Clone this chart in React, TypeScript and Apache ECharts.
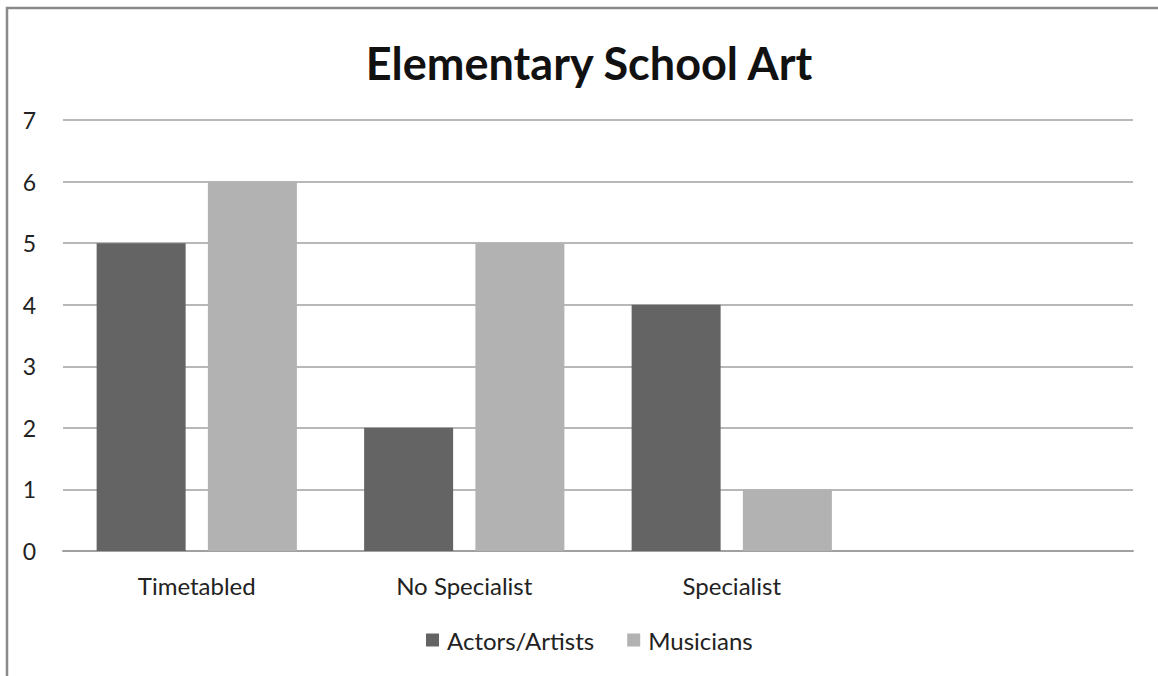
import React, { useEffect, useRef } from "react";
import * as echarts from "echarts";

const categories = ["Timetabled", "No Specialist", "Specialist", ""];
const actorsArtists = [5, 2, 4, null];
const musicians = [6, 5, 1, null];
const yTicks = { min: 0, max: 7, interval: 1 };

export default function App() {
  const ref = useRef<HTMLDivElement>(null);
  useEffect(() => {
    const chart = echarts.init(ref.current!, null, { renderer: "svg" });
    const font = "Lato, 'Open Sans', sans-serif";
    chart.setOption({
      animation: false,
      backgroundColor: "#ffffff",
      title: {
        text: "Elementary School Art",
        left: 584,
        textAlign: "center",
        top: 35,
        textStyle: { fontFamily: font, fontSize: 45, fontWeight: "bold", color: "#111" },
      },
      graphic: [
        {
          type: "rect",
          shape: { x: 7, y: 8, width: 1170, height: 700 },
          style: { fill: "none", stroke: "#8a8a8a", lineWidth: 2.5 },
          silent: true,
        },
      ],
      legend: {
        bottom: 19,
        left: 421,
        itemWidth: 13,
        itemHeight: 13,
        itemGap: 33,
        icon: "rect",
        textStyle: { fontFamily: font, fontSize: 24, color: "#222", padding: [0, 0, 0, 3] },
        data: ["Actors/Artists", "Musicians"],
      },
      grid: { left: 63, right: 25, top: 120, bottom: 125, containLabel: false },
      xAxis: {
        type: "category",
        data: categories,
        axisLine: { show: true, lineStyle: { color: "#a0a0a0", width: 2 } },
        axisTick: { show: false },
        axisLabel: { fontFamily: font, fontSize: 24, color: "#222", margin: 22 },
      },
      yAxis: {
        type: "value",
        min: yTicks.min,
        max: yTicks.max,
        interval: yTicks.interval,
        axisLine: { show: false },
        axisTick: { show: false },
        splitLine: { lineStyle: { color: "#a0a0a0", width: 1.5 } },
        axisLabel: { fontFamily: font, fontSize: 23, color: "#222", margin: 27 },
      },
      series: [
        {
          name: "Actors/Artists",
          type: "bar",
          data: actorsArtists,
          barWidth: 89,
          barGap: "25%",
          itemStyle: { color: "#646464" },
        },
        {
          name: "Musicians",
          type: "bar",
          data: musicians,
          barWidth: 89,
          barGap: "25%",
          itemStyle: { color: "#b2b2b2" },
        },
      ],
    });
    return () => chart.dispose();
  }, []);
  return (
    <div
      ref={ref}
      style={{ position: "fixed", left: 0, top: 0, width: 1158, height: 676 }}
    />
  );
}
